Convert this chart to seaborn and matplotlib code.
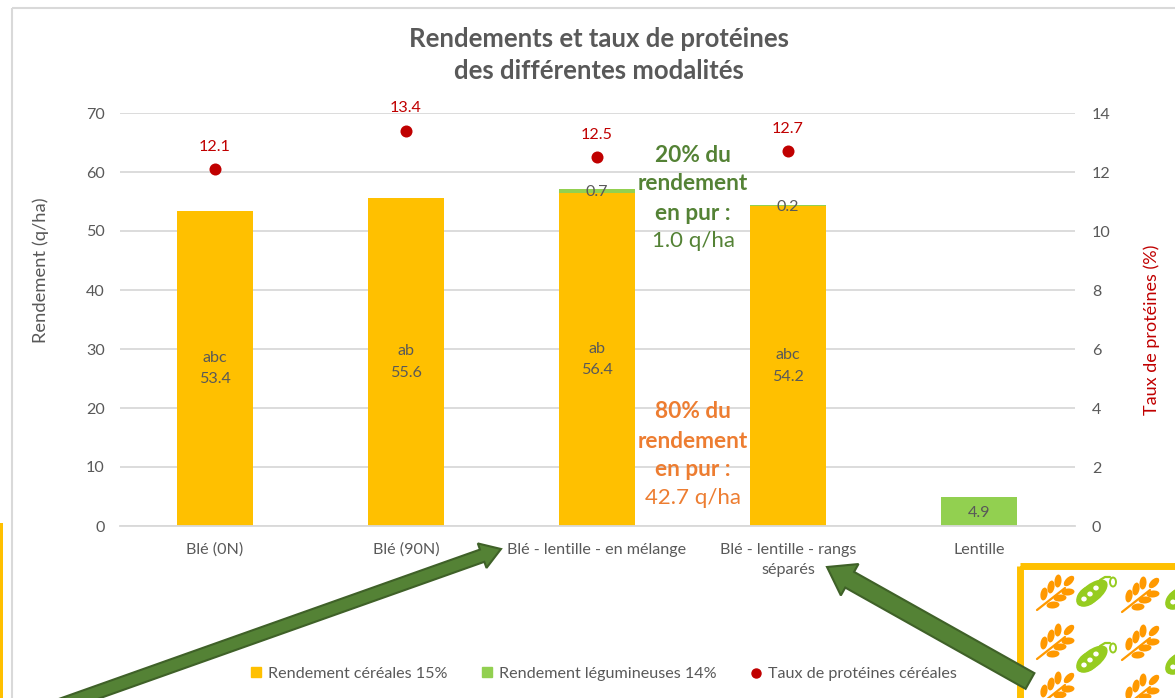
"""
Rendements et taux de protéines : barres empilées + points sur axe secondaire.
"""

import numpy as np
import pandas as pd
import seaborn as sns
import matplotlib.pyplot as plt
from matplotlib.lines import Line2D
from matplotlib.patches import Ellipse, FancyArrow, Patch, Rectangle

categories = ["Blé (0N)", "Blé (90N)", "Blé - lentille - en mélange", "Blé - lentille - rangs\nséparés", "Lentille"]
rdt_cereales = [53.4, 55.6, 56.4, 54.2, 0.0]
rdt_legumineuses = [0.0, 0.0, 0.7, 0.2, 4.9]
proteines = [12.1, 13.4, 12.5, 12.7]
lettres = ["abc", "ab", "ab", "abc"]
yticks_gauche = [0, 10, 20, 30, 40, 50, 60, 70]
yticks_droite = [0, 2, 4, 6, 8, 10, 12, 14]

GOLD = "#FFC000"
LIGHT_GREEN = "#92D050"
RED = "#C00000"
GREY = "#595959"
GRID = "#D9D9D9"
DARK_GREEN = "#548235"
ORANGE = "#ED7D31"

W, H = 1175, 698
FS = 11.6

sns.set_theme(style="white")
plt.rcParams["font.family"] = ["Lato", "DejaVu Sans"]

df = pd.DataFrame({"modalite": categories, "cereales": rdt_cereales, "legumineuses": rdt_legumineuses})

fig = plt.figure(figsize=(W / 100, H / 100), dpi=100)
ax = fig.add_axes([119.5 / W, 1 - 526 / H, 955 / W, 413 / H])

sns.barplot(data=df, x="modalite", y="cereales", color=GOLD, saturation=1, width=0.4, linewidth=0, ax=ax, zorder=2)
sns.barplot(data=df, x="modalite", y="legumineuses", bottom=df["cereales"], color=LIGHT_GREEN,
            saturation=1, width=0.4, linewidth=0, ax=ax, zorder=2)

ax.set_xlim(-0.5, 4.5)
ax.set_ylim(0, 70)
ax.set_yticks(yticks_gauche)
ax.grid(axis="y", color=GRID, lw=1.3, zorder=0)
ax.set_axisbelow(True)
ax.tick_params(axis="both", length=0, labelsize=FS, labelcolor=GREY)
ax.tick_params(axis="x", pad=12)
ax.tick_params(axis="y", pad=10.5)
for lab in ax.get_xticklabels():
    lab.set_linespacing(1.6)
ax.set_xlabel("")
ax.set_ylabel("Rendement (q/ha)", fontsize=13.2, color=GREY)
ax.yaxis.set_label_coords(-0.0735, 0.62)
sns.despine(ax=ax, left=True, top=True, right=True)
ax.spines["bottom"].set_color(GRID)
ax.spines["bottom"].set_linewidth(1.3)

# étiquettes des barres
for i, (val, lettre) in enumerate(zip(rdt_cereales, lettres)):
    ax.text(i, val / 2, f"{lettre}\n{val}", ha="center", va="center", fontsize=FS, color=GREY, linespacing=1.7)
for i, (base, val) in enumerate(zip(rdt_cereales, rdt_legumineuses)):
    if val > 0:
        ax.text(i, base + val / 2 - 0.2, f"{val}", ha="center", va="center", fontsize=FS, color=GREY)

ax2 = ax.twinx()
sns.scatterplot(x=np.arange(len(proteines)), y=proteines, color=RED, s=75, linewidth=0, ax=ax2, zorder=3)
ax2.set_ylim(0, 14)
ax2.set_yticks(yticks_droite)
ax2.tick_params(axis="y", length=0, labelsize=FS, labelcolor=GREY, pad=12.5)
ax2.set_ylabel("Taux de protéines (%)", fontsize=13, color=RED)
ax2.yaxis.set_label_coords(1.0725, 0.475)
sns.despine(ax=ax2, left=True, top=True, right=True, bottom=True)
for i, val in enumerate(proteines):
    ax2.annotate(f"{val}", (i, val), xytext=(0, 16), textcoords="offset points", ha="center", va="center",
                 fontsize=FS, color=RED)

poignees = [
    Patch(color=GOLD, label="Rendement céréales 15%"),
    Patch(color=LIGHT_GREEN, label="Rendement légumineuses 14%"),
    Line2D([], [], marker="o", ls="", color=RED, markersize=6.5, label="Taux de protéines céréales"),
]
fig.legend(handles=poignees, loc="center", bbox_to_anchor=(604 / W, 1 - 674 / H), ncol=3, frameon=False,
           fontsize=FS, labelcolor=GREY, handlelength=0.6, handleheight=0.6, handletextpad=0.4, columnspacing=2.2)

# calque en pixels pour les annotations et le décor
deco = fig.add_axes([0, 0, 1, 1], zorder=5)
deco.set_xlim(0, W)
deco.set_ylim(H, 0)
deco.axis("off")
deco.patch.set_alpha(0)

deco.add_patch(Rectangle((12, 8), W, H, fill=False, ec=GRID, lw=1.5))
deco.add_patch(Rectangle((-5, 523), 8, H, color=GOLD, lw=0))
deco.add_patch(Rectangle((1019.5, 565.5), W, H, fill=False, ec=GOLD, lw=5))


def draw_wheat(cx, cy):
    deco.plot([cx - 20, cx + 8], [cy + 17, cy - 5], color="#FF9900", lw=1.6, solid_capstyle="round")
    for dx, dy, ang in [(-13, 1, -80), (-6, -6, -80), (1, -12, -85), (12, -12, -45),
                        (11, -1, -5), (3, 5, -5), (-4, 12, -5)]:
        deco.add_patch(Ellipse((cx + dx, cy + dy), 13, 7, angle=ang, color="#FF9900", lw=0))


def draw_pea(cx, cy):
    deco.add_patch(Ellipse((cx - 5, cy + 1), 37, 18, angle=-38, color="#96CC20", lw=0))
    deco.add_patch(Ellipse((cx - 9, cy + 4), 26, 18, angle=-38, color="#96CC20", lw=0))
    for dx, dy in [(-13, 7), (-7, 2), (-1, -4)]:
        deco.add_patch(Ellipse((cx + dx, cy + dy), 5.5, 5, color="white", lw=0))
    deco.plot([cx + 3, cx + 8, cx + 13], [cy - 12, cy - 15, cy - 15], color="#96CC20", lw=1.6)
    deco.add_patch(Ellipse((cx + 16, cy - 10), 6, 9, fill=False, ec="#96CC20", lw=1.4))


for cx, cy in [(1057, 593), (1142, 595), (1057, 642), (1142, 643), (1057, 690), (1142, 692)]:
    draw_wheat(cx, cy)
for cx, cy in [(1097, 592), (1097, 658), (1186, 595), (1186, 660)]:
    draw_pea(cx, cy)

for xa, ya, xb, yb, larg, tete_l, tete_h in [(50, 709, 501, 549, 13, 26, 20), (1030, 681, 827, 567, 18, 36, 26)]:
    deco.add_patch(FancyArrow(xa, ya, xb - xa, yb - ya, width=larg, head_width=tete_l, head_length=tete_h,
                              length_includes_head=True, fc=DARK_GREEN, ec="#3F6128", lw=1.5))

deco.text(599, 39, "Rendements et taux de protéines", ha="center", va="center",
          fontsize=18.5, fontweight="bold", color=GREY)
deco.text(599, 71, "des différentes modalités", ha="center", va="center",
          fontsize=18.5, fontweight="bold", color=GREY)

deco.text(693, 155, "20% du", ha="center", va="center", fontsize=16.3, fontweight="bold", color=DARK_GREEN)
deco.text(693, 184, "rendement", ha="center", va="center", fontsize=16.3, fontweight="bold", color=DARK_GREEN)
deco.text(693, 213, "en pur :", ha="center", va="center", fontsize=16.3, fontweight="bold", color=DARK_GREEN)
deco.text(693, 241, "1.0 q/ha", ha="center", va="center", fontsize=16, color=DARK_GREEN)
deco.text(693, 412, "80% du", ha="center", va="center", fontsize=16.3, fontweight="bold", color=ORANGE)
deco.text(693, 441, "rendement", ha="center", va="center", fontsize=16.3, fontweight="bold", color=ORANGE)
deco.text(693, 470, "en pur :", ha="center", va="center", fontsize=16.3, fontweight="bold", color=ORANGE)
deco.text(693, 498, "42.7 q/ha", ha="center", va="center", fontsize=16, color=ORANGE)

fig.savefig("out.png", dpi=100)
